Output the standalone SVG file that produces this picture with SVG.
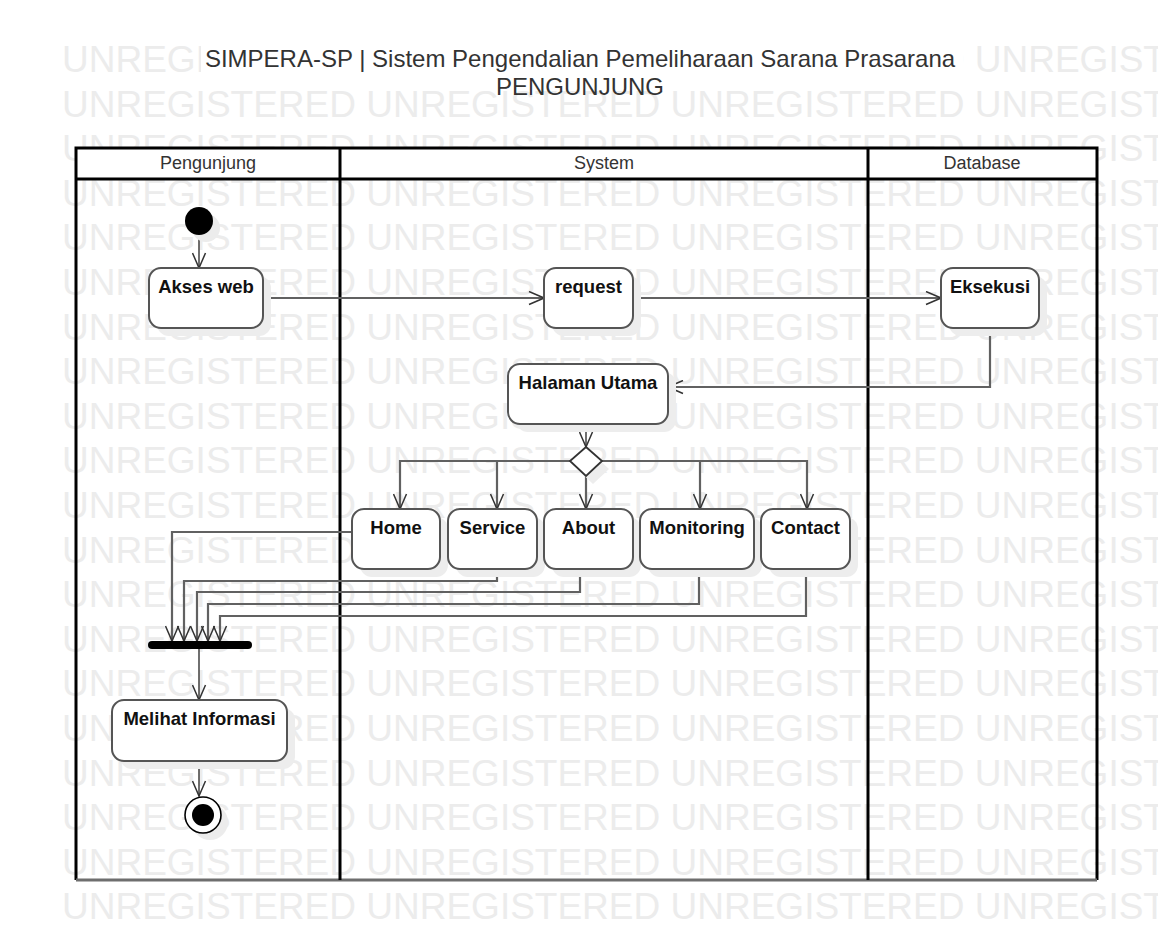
<svg xmlns="http://www.w3.org/2000/svg" width="1158" height="942" viewBox="0 0 1158 942">
<style>
.wm{font-family:"Liberation Sans",Arial,sans-serif;font-size:37px;fill:#ececec}
.title{font-family:"Liberation Sans",Arial,sans-serif;font-size:24px;fill:#333;text-anchor:middle}
.lane{font-family:"Liberation Sans",Arial,sans-serif;font-size:18px;fill:#333;text-anchor:middle}
.frame{fill:none;stroke:#000;stroke-width:3}
.node{fill:#fff;stroke:#555;stroke-width:2}
.shadow{fill:#ededed;stroke:none}
.lbl{font-family:"Liberation Sans",Arial,sans-serif;font-size:18.5px;font-weight:bold;fill:#111;text-anchor:middle}
.conn{fill:none;stroke:#616161;stroke-width:2.2;marker-end:url(#arr)}
.thin{fill:none;stroke:#333;stroke-width:1.4;marker-end:url(#arr)}
</style>
<defs>
<marker id="arr" viewBox="0 0 17 15" refX="16" refY="7.5" markerWidth="17" markerHeight="15" orient="auto" markerUnits="userSpaceOnUse">
<path d="M1,1 L16,7.5 L1,14" fill="none" stroke="#333" stroke-width="1.5"/>
</marker>
</defs>
<rect width="1158" height="942" fill="#fff"/>
<g id="watermark">
<text class="wm" x="62" y="72">UNREGISTERED UNREGISTERED UNREGISTERED UNREGISTERED</text>
<text class="wm" x="62" y="116.6">UNREGISTERED UNREGISTERED UNREGISTERED UNREGISTERED</text>
<text class="wm" x="62" y="161.2">UNREGISTERED UNREGISTERED UNREGISTERED UNREGISTERED</text>
<text class="wm" x="62" y="205.8">UNREGISTERED UNREGISTERED UNREGISTERED UNREGISTERED</text>
<text class="wm" x="62" y="250.4">UNREGISTERED UNREGISTERED UNREGISTERED UNREGISTERED</text>
<text class="wm" x="62" y="295">UNREGISTERED UNREGISTERED UNREGISTERED UNREGISTERED</text>
<text class="wm" x="62" y="339.6">UNREGISTERED UNREGISTERED UNREGISTERED UNREGISTERED</text>
<text class="wm" x="62" y="384.2">UNREGISTERED UNREGISTERED UNREGISTERED UNREGISTERED</text>
<text class="wm" x="62" y="428.8">UNREGISTERED UNREGISTERED UNREGISTERED UNREGISTERED</text>
<text class="wm" x="62" y="473.4">UNREGISTERED UNREGISTERED UNREGISTERED UNREGISTERED</text>
<text class="wm" x="62" y="518">UNREGISTERED UNREGISTERED UNREGISTERED UNREGISTERED</text>
<text class="wm" x="62" y="562.6">UNREGISTERED UNREGISTERED UNREGISTERED UNREGISTERED</text>
<text class="wm" x="62" y="607.2">UNREGISTERED UNREGISTERED UNREGISTERED UNREGISTERED</text>
<text class="wm" x="62" y="651.8">UNREGISTERED UNREGISTERED UNREGISTERED UNREGISTERED</text>
<text class="wm" x="62" y="696.4">UNREGISTERED UNREGISTERED UNREGISTERED UNREGISTERED</text>
<text class="wm" x="62" y="741">UNREGISTERED UNREGISTERED UNREGISTERED UNREGISTERED</text>
<text class="wm" x="62" y="785.6">UNREGISTERED UNREGISTERED UNREGISTERED UNREGISTERED</text>
<text class="wm" x="62" y="830.2">UNREGISTERED UNREGISTERED UNREGISTERED UNREGISTERED</text>
<text class="wm" x="62" y="874.8">UNREGISTERED UNREGISTERED UNREGISTERED UNREGISTERED</text>
<text class="wm" x="62" y="919.4">UNREGISTERED UNREGISTERED UNREGISTERED UNREGISTERED</text>
</g>
<g id="title">
<rect x="201" y="42" width="762" height="36" fill="#fff"/>
<text class="title" x="580" y="67">SIMPERA-SP | Sistem Pengendalian Pemeliharaan Sarana Prasarana</text>
<text class="title" x="580" y="95">PENGUNJUNG</text>
</g>
<g id="lanes">
<rect x="76" y="148" width="1021" height="31" fill="#fff"/>
<path class="frame" d="M76,880 V148 H1097 V880"/>
<path d="M76,880 H1097" fill="none" stroke="#6e6e6e" stroke-width="3"/>
<path class="frame" d="M76,179 H1097 M340,148 V880 M868,148 V880"/>
<text class="lane" x="208" y="169">Pengunjung</text>
<text class="lane" x="604" y="169">System</text>
<text class="lane" x="982" y="169">Database</text>
</g>
<g id="connectors">
<path class="thin" d="M199,235 V268"/>
<path class="conn" d="M263,298 H544"/>
<path class="conn" d="M633,298 H941"/>
<path class="conn" d="M990,328 V387 H668"/>
<path class="thin" d="M586,424 V447"/>
<path class="conn" d="M570,461 H400 V509"/>
<path class="conn" d="M570,461 H497 V509"/>
<path class="conn" d="M586,476 V509"/>
<path class="conn" d="M602,461 H700 V509"/>
<path class="conn" d="M602,461 H807 V509"/>
<path class="conn" d="M352,532 H172 V641"/>
<path class="conn" d="M497,569 V581 H184 V641"/>
<path class="conn" d="M580,569 V592 H197 V641"/>
<path class="conn" d="M699,569 V604 H208 V641"/>
<path class="conn" d="M806,569 V616 H220 V641"/>
<path class="thin" d="M199,649 V700"/>
<path class="thin" d="M199,761 V796"/>
</g>
<g id="start">
<circle cx="206" cy="228" r="14" fill="#ececec"/>
<circle cx="199" cy="221" r="14" fill="#000"/>
</g>
<g id="akses-web">
<rect class="shadow" x="157" y="276" width="114" height="60" rx="12"/>
<rect class="node" x="149" y="268" width="114" height="60" rx="12"/>
<text class="lbl" x="206" y="293">Akses web</text>
</g>
<g id="request">
<rect class="shadow" x="552" y="276" width="89" height="60" rx="12"/>
<rect class="node" x="544" y="268" width="89" height="60" rx="12"/>
<text class="lbl" x="588.5" y="293">request</text>
</g>
<g id="eksekusi">
<rect class="shadow" x="949" y="276" width="98" height="60" rx="12"/>
<rect class="node" x="941" y="268" width="98" height="60" rx="12"/>
<text class="lbl" x="990" y="293">Eksekusi</text>
</g>
<g id="halaman-utama">
<rect class="shadow" x="516" y="372" width="160" height="60" rx="12"/>
<rect class="node" x="508" y="364" width="160" height="60" rx="12"/>
<text class="lbl" x="588" y="389">Halaman Utama</text>
</g>
<g id="decision">
<path d="M593,454 L609,469 L593,484 L577,469 Z" fill="#ededed"/>
<path d="M586,447 L602,461 L586,476 L570,461 Z" fill="#fff" stroke="#333" stroke-width="1.8"/>
</g>
<g id="home">
<rect class="shadow" x="360" y="517" width="88" height="60" rx="12"/>
<rect class="node" x="352" y="509" width="88" height="60" rx="12"/>
<text class="lbl" x="396" y="534">Home</text>
</g>
<g id="service">
<rect class="shadow" x="456" y="517" width="89" height="60" rx="12"/>
<rect class="node" x="448" y="509" width="89" height="60" rx="12"/>
<text class="lbl" x="492.5" y="534">Service</text>
</g>
<g id="about">
<rect class="shadow" x="552" y="517" width="89" height="60" rx="12"/>
<rect class="node" x="544" y="509" width="89" height="60" rx="12"/>
<text class="lbl" x="588.5" y="534">About</text>
</g>
<g id="monitoring">
<rect class="shadow" x="648" y="517" width="114" height="60" rx="12"/>
<rect class="node" x="640" y="509" width="114" height="60" rx="12"/>
<text class="lbl" x="697" y="534">Monitoring</text>
</g>
<g id="contact">
<rect class="shadow" x="769" y="517" width="89" height="60" rx="12"/>
<rect class="node" x="761" y="509" width="89" height="60" rx="12"/>
<text class="lbl" x="805.5" y="534">Contact</text>
</g>
<g id="join">
<rect x="148" y="641" width="104" height="8" rx="4" fill="#000"/>
</g>
<g id="melihat-informasi">
<rect class="shadow" x="120" y="708" width="175" height="61" rx="12"/>
<rect class="node" x="112" y="700" width="175" height="61" rx="12"/>
<text class="lbl" x="199.5" y="725">Melihat Informasi</text>
</g>
<g id="end">
<circle cx="210" cy="822" r="18" fill="#ececec"/>
<circle cx="203" cy="815" r="18" fill="#fff" stroke="#000" stroke-width="1.6"/>
<circle cx="203" cy="815" r="11" fill="#000"/>
</g>
</svg>
